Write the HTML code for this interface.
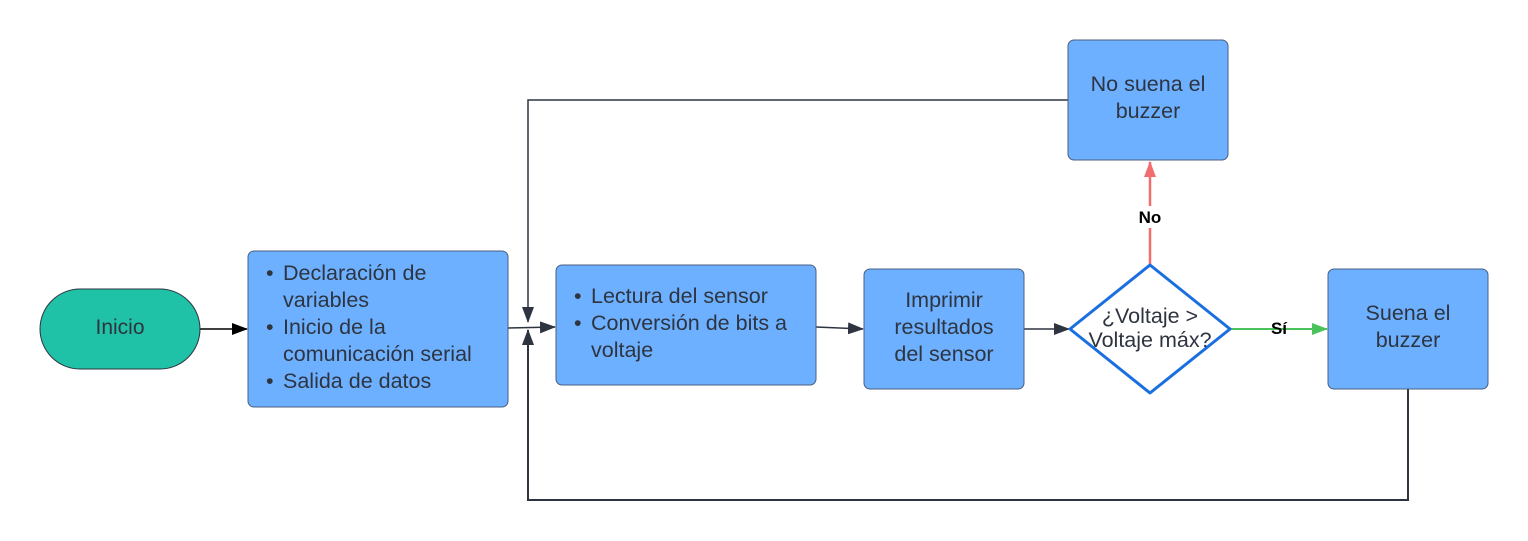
<!DOCTYPE html>
<html><head><meta charset="utf-8"><style>
html,body{margin:0;padding:0;background:#fff;}
svg{display:block;font-family:"Liberation Sans",sans-serif;}
</style></head><body>
<svg width="1528" height="541" viewBox="0 0 1528 541" xmlns="http://www.w3.org/2000/svg">
<defs>
<marker id="ak" markerWidth="16" markerHeight="12" refX="15" refY="6" orient="auto" markerUnits="userSpaceOnUse"><path d="M0,0 L16,6 L0,12 z" fill="#000"/></marker>
<marker id="ag" markerWidth="16" markerHeight="12" refX="15" refY="6" orient="auto" markerUnits="userSpaceOnUse"><path d="M0,0 L16,6 L0,12 z" fill="#4cc35a"/></marker>
<marker id="ar" markerWidth="16" markerHeight="12" refX="15" refY="6" orient="auto" markerUnits="userSpaceOnUse"><path d="M0,0 L16,6 L0,12 z" fill="#f26d6d"/></marker>
<marker id="ab" markerWidth="16" markerHeight="12" refX="15" refY="6" orient="auto" markerUnits="userSpaceOnUse"><path d="M0,0 L16,6 L0,12 z" fill="#2e3440"/></marker>
</defs>
<g fill="none" stroke="#2e3440" stroke-width="1.5">
<path d="M1068,100 H528 V322" marker-end="url(#ab)"/>
<path d="M1408,389 V500 H528 V330" stroke-width="2" marker-end="url(#ab)"/>
<path d="M508,328 L555,327" marker-end="url(#ab)"/>
<path d="M816,327 L863,329" marker-end="url(#ab)"/>
<path d="M1024,329 L1069,329" marker-end="url(#ab)"/>
</g>
<path d="M200,329 L247,329" stroke="#000" stroke-width="1.5" marker-end="url(#ak)"/>
<path d="M1230,329 L1327,329" stroke="#4cc35a" stroke-width="2" marker-end="url(#ag)"/>
<path d="M1150,265 L1150,162" stroke="#f26d6d" stroke-width="2.5" marker-end="url(#ar)"/>
<rect x="1135" y="206" width="30" height="22" fill="#fff"/>
<text x="1150" y="223" font-size="17" font-weight="bold" text-anchor="middle">No</text>
<text x="1279" y="334" font-size="17" font-weight="bold" text-anchor="middle">Sí</text>

<rect x="40" y="289" width="160" height="80" rx="40" fill="#1fc2a6" stroke="#2e3440" stroke-width="1"/>
<text x="120" y="334" font-size="21" fill="#2e3440" text-anchor="middle">Inicio</text>

<g fill="#6cb0ff" stroke="#4a5f80" stroke-width="1">
<rect x="248" y="251" width="260" height="156" rx="6"/>
<rect x="556" y="265" width="260" height="120" rx="6"/>
<rect x="864" y="269" width="160" height="120" rx="6"/>
<rect x="1328" y="269" width="160" height="120" rx="6"/>
<rect x="1068" y="40" width="160" height="120" rx="6"/>
</g>
<path d="M1150,265 L1230,329 L1150,393 L1070,329 Z" fill="#fff" stroke="#1a6fe0" stroke-width="3" stroke-linejoin="round"/>

<g font-size="21.5" fill="#2e3440">
<text x="266" y="280">•</text><text x="283" y="280">Declaración de</text>
<text x="283" y="307">variables</text>
<text x="266" y="334">•</text><text x="283" y="334">Inicio de la</text>
<text x="283" y="361">comunicación serial</text>
<text x="266" y="388">•</text><text x="283" y="388">Salida de datos</text>
<text x="574" y="303">•</text><text x="591" y="303">Lectura del sensor</text>
<text x="574" y="330">•</text><text x="591" y="330">Conversión de bits a</text>
<text x="591" y="357">voltaje</text>
</g>
<g font-size="21.5" fill="#2e3440" text-anchor="middle">
<text x="944" y="307">Imprimir</text>
<text x="944" y="334">resultados</text>
<text x="944" y="361">del sensor</text>
<text x="1408" y="320">Suena el</text>
<text x="1408" y="347">buzzer</text>
<text x="1148" y="91">No suena el</text>
<text x="1148" y="118">buzzer</text>
<text x="1150" y="323">¿Voltaje &gt;</text>
<text x="1150" y="347">Voltaje máx?</text>
</g>
</svg>
</body></html>
